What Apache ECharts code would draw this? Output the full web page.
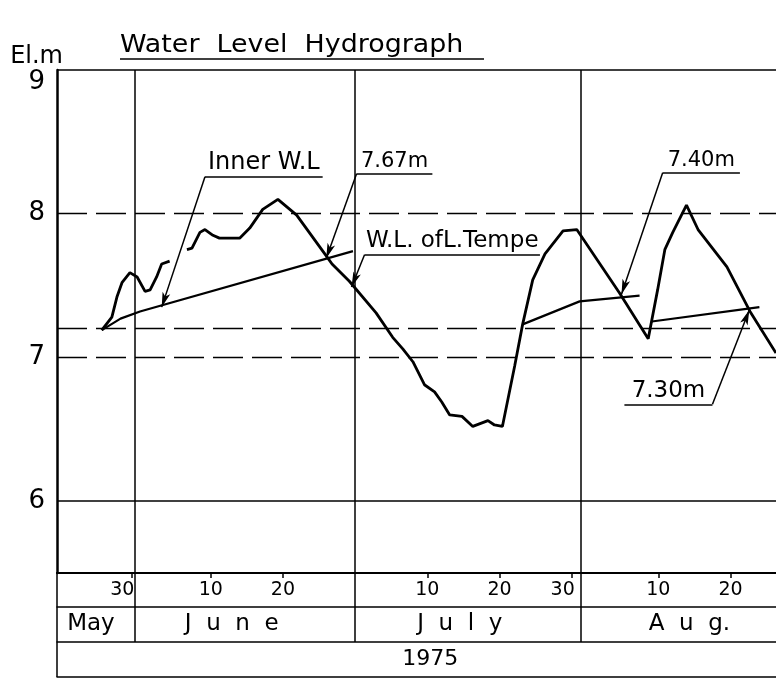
<!DOCTYPE html>
<html>
<head>
<meta charset="utf-8">
<title>Water Level Hydrograph</title>
<script src="https://cdn.jsdelivr.net/npm/echarts@6/dist/echarts.min.js"></script>
<style>
html, body { margin: 0; padding: 0; background: #fff; }
#chart { width: 776px; height: 679px; }
</style>
</head>
<body>
<div id="chart"></div>
<script>
// x = day count from 31 May (June d -> d, July d -> 30 + d, Aug d -> 61 + d)
let innerDays = [-5.1, -3.7, -3.0, -2.3, -1.2, -0.2, 0.9, 1.6, 2.5, 3.2, 4.3, 5.5,
	6.7, 7.4, 8.5, 9.2, 10.3, 11.2, 14.0, 15.4, 17.2, 19.3, 21.9, 26.1, 26.8, 29.2, 32.9,
	35.2, 36.6, 38.0, 39.6, 41.0, 42.0, 43.1, 44.8, 46.3, 48.4, 49.3, 50.4,
	52.1, 53.2, 54.6, 56.3, 58.8, 60.7, 66.6, 70.6, 71.9, 72.9, 74.0, 75.9, 77.5, 81.5, 84.7, 88.3];
let innerLevels = [7.19, 7.28, 7.42, 7.52, 7.59, 7.56, 7.46, 7.47, 7.56, 7.65, 7.67, null,
	7.75, 7.76, 7.87, 7.89, 7.85, 7.83, 7.83, 7.90, 8.03, 8.10, 7.99, 7.70, 7.65, 7.53, 7.31,
	7.14, 7.06, 6.97, 6.81, 6.76, 6.69, 6.60, 6.59, 6.52, 6.56, 6.53, 6.52,
	6.94, 7.23, 7.54, 7.72, 7.88, 7.89, 7.45, 7.13, 7.47, 7.75, 7.87, 8.06, 7.89, 7.63, 7.32, 7.03];

let lakeDays = [-5.1, -2.5, 0.2, 29.7, 40, 53.2, 61.1, 69.4, 70, 71.1, 86.0];
let lakeLevels = [7.19, 7.27, 7.32, 7.74, null, 7.23, 7.39, 7.43, null, 7.25, 7.35];

let dayTicks = [-1, 10, 20, 40, 50, 60, 72, 82];
let dayLabels = ["30", "10", "20", "10", "20", "30", "10", "20"];
let monthBounds = [-0.5, 30, 61.2];
let monthPos = [-6.6, 12.9, 44.5, 76.3];
let monthNames = ["May", "J  u  n  e", "J  u  l  y", "A  u  g."];
let yearPos = [40.4];
let yearNames = ["1975"];
let yTicks = [6, 7, 8, 9];
let hLevels = [9, 8, 7.2, 7, 6];
let hDashed = [false, true, true, true, false];

let xMin = -11.3;
let xMax = 88.3;

// annotation text, underline and leader (in day / metre units)
let notes = [
	{ text: "Inner W.L", size: 24, under: [9.2, 25.5, 8.257], lead: [[9.2, 8.257], [3.2, 7.35]] },
	{ text: "7.67m", size: 21, under: [30.2, 40.7, 8.278], lead: [[30.2, 8.278], [26.0, 7.69]] },
	{ text: "W.L. ofL.Tempe", size: 23, under: [31.3, 55.6, 7.715], lead: [[31.3, 7.715], [29.5, 7.49]] },
	{ text: "7.40m", size: 21, under: [72.6, 83.3, 8.285], lead: [[72.6, 8.285], [66.9, 7.44]] },
	{ text: "7.30m", size: 23, under: [67.3, 79.5, 6.674], lead: [[79.5, 6.674], [84.6, 7.33]] }
];

function pick(values, labels, v) {
	let best = 0;
	for (let i = 1; i < values.length; i++) {
		if (Math.abs(values[i] - v) < Math.abs(values[best] - v)) best = i;
	}
	return labels[best];
}

function pairs(xs, ys) {
	return xs.map(function(x, i) {
		return [x, ys[i] == null ? "-" : ys[i]];
	});
}

let font = "DejaVu Sans";
let black = "#000";
let tableEdges = [xMin].concat(monthBounds);

function tableAxis(offset, ticks, labelValues, labelNames, size) {
	return {
		type: "value",
		gridIndex: 0,
		position: "bottom",
		offset: offset,
		min: xMin,
		max: xMax,
		axisLine: { show: true, onZero: false, lineStyle: { color: black, width: 1.5 } },
		axisTick: {
			show: ticks.length > 0,
			inside: true,
			length: 35,
			customValues: ticks,
			lineStyle: { color: black, width: 1.5 }
		},
		axisLabel: {
			show: labelValues.length > 0,
			customValues: labelValues,
			margin: 6,
			color: black,
			fontFamily: font,
			fontSize: size,
			formatter: function(v) {
				return pick(labelValues, labelNames, v);
			}
		},
		splitLine: { show: false }
	};
}

let chart = echarts.init(document.getElementById("chart"));

let gridLines = [];
hLevels.forEach(function(h, i) {
	gridLines.push({
		yAxis: h,
		lineStyle: { type: hDashed[i] ? [30, 9] : "solid", width: hDashed[i] ? 1.3 : 1.5 }
	});
});
monthBounds.forEach(function(b) {
	gridLines.push({ xAxis: b, lineStyle: { type: "solid", width: 1.5 } });
});

let underlines = notes.map(function(n) {
	return [
		{ coord: [n.under[0], n.under[2]] },
		{
			coord: [n.under[1], n.under[2]],
			label: {
				show: true,
				position: "insideMiddleTop",
				distance: 2,
				formatter: n.text,
				color: black,
				fontFamily: font,
				fontSize: n.size
			}
		}
	];
});

let leaders = notes.map(function(n) {
	return [{ coord: n.lead[0] }, { coord: n.lead[1] }];
});

let option = {
	animation: false,
	backgroundColor: "#fff",
	graphic: [
		{
			// title is letter-spaced in the original, so stretch it a little
			type: "text",
			x: 120,
			y: 34,
			scaleX: 1.12,
			style: {
				text: "Water  Level  Hydrograph",
				fill: black,
				font: "24px 'DejaVu Sans'"
			}
		},
		{
			type: "line",
			shape: { x1: 120, y1: 59, x2: 484, y2: 59 },
			style: { stroke: black, lineWidth: 1.5 }
		}
	],
	grid: { left: 57, top: 70, right: 0, bottom: 106 },
	xAxis: [
		{
			type: "value",
			position: "bottom",
			min: xMin,
			max: xMax,
			axisLine: { show: true, onZero: false, lineStyle: { color: black, width: 2 } },
			axisTick: {
				show: true,
				length: 5,
				customValues: dayTicks,
				lineStyle: { color: black, width: 1.5 }
			},
			axisLabel: {
				customValues: dayTicks,
				margin: 8,
				color: black,
				fontFamily: font,
				fontSize: 19,
				formatter: function(v) {
					let s = pick(dayTicks, dayLabels, v);
					return s == "30" ? "{r|" + s + "}" : s;
				},
				rich: {
					r: { fontFamily: font, fontSize: 19, color: black, padding: [0, 18, 0, 0] }
				}
			},
			splitLine: { show: false }
		},
		tableAxis(34, tableEdges, monthPos, monthNames, 23),
		tableAxis(69, tableEdges, yearPos, yearNames, 22),
		tableAxis(104, [xMin], [], [], 22)
	],
	yAxis: {
		type: "value",
		min: 5.5,
		max: 9,
		name: "El.m",
		nameLocation: "end",
		nameGap: -3,
		nameTextStyle: { color: black, fontFamily: font, fontSize: 24, align: "right", padding: [0, -6, 0, 0] },
		axisLine: { show: true, onZero: false, lineStyle: { color: black, width: 2.5 } },
		axisTick: { show: false },
		axisLabel: {
			customValues: yTicks,
			margin: 12,
			color: black,
			fontFamily: font,
			fontSize: 26,
			formatter: function(v) {
				return v == 9 ? "{t|9}" : String(v);
			},
			rich: {
				t: { fontFamily: font, fontSize: 26, color: black, padding: [24, 0, 0, 0] }
			}
		},
		splitLine: { show: false }
	},
	series: [
		{
			name: "frame",
			type: "line",
			data: [],
			markLine: {
				silent: true,
				symbol: "none",
				label: { show: false },
				lineStyle: { color: black },
				data: gridLines
			}
		},
		{
			name: "Inner W.L",
			type: "line",
			data: pairs(innerDays, innerLevels),
			showSymbol: false,
			connectNulls: false,
			lineStyle: { color: black, width: 2.8 },
			markLine: {
				silent: true,
				symbol: "none",
				lineStyle: { color: black, width: 1.5, type: "solid" },
				label: { show: false },
				data: underlines
			}
		},
		{
			name: "W.L. of L.Tempe",
			type: "line",
			data: pairs(lakeDays, lakeLevels),
			showSymbol: false,
			connectNulls: false,
			lineStyle: { color: black, width: 2.2 },
			markLine: {
				silent: true,
				symbol: ["none", "arrow"],
				symbolSize: [6, 15],
				lineStyle: { color: black, width: 1.5, type: "solid" },
				label: { show: false },
				data: leaders
			}
		}
	]
};

chart.setOption(option);
</script>
</body>
</html>
